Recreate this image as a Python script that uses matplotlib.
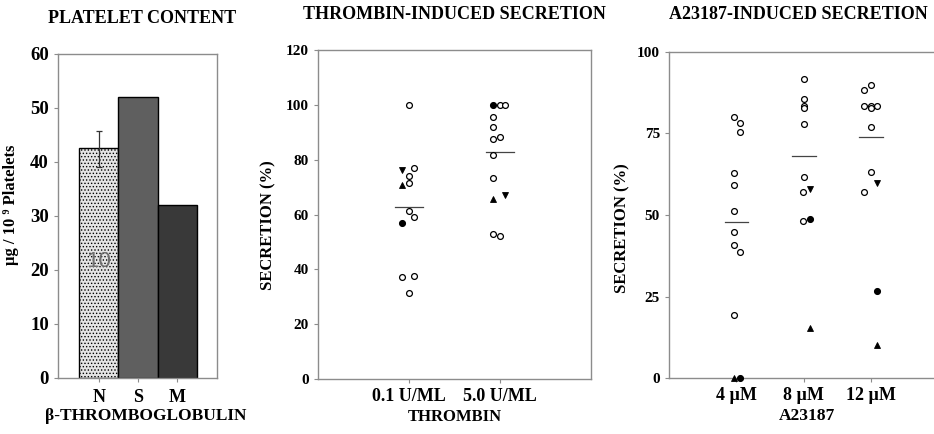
import matplotlib
matplotlib.use("Agg")
import matplotlib.pyplot as plt
from matplotlib.font_manager import FontProperties
import numpy as np

plt.rcParams['font.family'] = ['Liberation Serif', 'DejaVu Serif']
plt.rcParams['font.weight'] = 'bold'
plt.rcParams['axes.titleweight'] = 'bold'
plt.rcParams['axes.labelweight'] = 'bold'
plt.rcParams['hatch.color'] = '#9a9a9a'
plt.rcParams['hatch.linewidth'] = 0.6

# ---------------- Panel 1 data ----------------
bt_categories = ["N", "S", "M"]
bt_values = [42.5, 52.0, 32.0]
bt_err_low = [3.5, 0, 0]
bt_err_high = [3.2, 0, 0]
bt_n_label = "10"

# ---------------- Panel 2 data (thrombin) ----------------
thr_categories = ["0.1 U/ML", "5.0 U/ML"]
thr_open = [[100, 76.9, 74.0, 71.6, 61.2, 59.0, 37.3, 37.5, 31.5],
            [100, 100, 95.4, 92.0, 87.4, 88.1, 81.8, 73.4, 52.9, 52.2]]
thr_open_dx = [[0, 0.055, 0, 0, 0, 0.055, -0.073, 0.055, 0],
               [0, 0.055, -0.073, -0.073, -0.073, 0, -0.073, -0.073, -0.073, 0]]
thr_filled_circle = [[57.0], [100]]
thr_filled_circle_dx = [[-0.073], [-0.073]]
thr_up = [[70.6], [65.8]]
thr_up_dx = [[-0.073], [-0.073]]
thr_down = [[76.2], [67.1]]
thr_down_dx = [[-0.073], [0.055]]
thr_mean = [62.7, 82.8]

# ---------------- Panel 3 data (A23187) ----------------
a23_categories = ["4 \u00b5M", "8 \u00b5M", "12 \u00b5M"]
a23_open = [[80.0, 78.2, 75.4, 63.0, 59.2, 51.1, 44.7, 40.9, 38.8, 19.3],
            [91.7, 85.7, 83.5, 82.8, 77.8, 61.8, 57.0, 48.2],
            [88.4, 90.0, 83.5, 83.5, 82.8, 83.5, 77.0, 63.1, 57.0]]
a23_open_dx = [[-0.03, 0.06, 0.06, -0.03, -0.03, -0.03, -0.03, -0.03, 0.06, -0.03],
               [0, 0, 0, 0, 0, 0, -0.01, -0.01],
               [-0.11, 0, -0.11, 0, 0, 0.085, 0, 0, -0.11]]
a23_filled_circle = [[0.0], [48.8], [26.7]]
a23_filled_circle_dx = [[0.05], [0.09], [0.085]]
a23_up = [[0.0], [15.2], [10.0]]
a23_up_dx = [[-0.03], [0.09], [0.085]]
a23_down = [[], [57.9], [59.7]]
a23_down_dx = [[], [0.09], [0.085]]
a23_mean = [48.0, 68.2, 73.8]

W, H = 934, 434
fig = plt.figure(figsize=(W / 100, H / 100), dpi=100)

SPINE = '#8c8c8c'


def style_axes(ax):
    for s in ax.spines.values():
        s.set_color(SPINE)
        s.set_linewidth(1.0)
    ax.tick_params(axis='both', colors='black', length=3, width=0.8)
    ax.tick_params(axis='both', which='both', color=SPINE)


def fp(l, t, r, b):
    return [l / W, 1 - b / H, (r - l) / W, (b - t) / H]


# ---------------- Panel 1 ----------------
ax1 = fig.add_axes(fp(58, 54, 217, 378))
x1 = np.arange(len(bt_categories))
colors = ['#e4e4e4', '#5f5f5f', '#393939']
hatches = ['.....', None, None]
for xi, v, c, h in zip(x1, bt_values, colors, hatches):
    ax1.bar(xi, v, width=1.0, color=c, edgecolor='black', linewidth=1.0, hatch=h, zorder=2)
ax1.errorbar(x1[0], bt_values[0], yerr=[[bt_err_low[0]], [bt_err_high[0]]],
             fmt='none', ecolor='#333333', elinewidth=0.9, capsize=2.5, capthick=0.9, zorder=3)
ax1.text(x1[0], 21.5, bt_n_label, ha='center', va='center', color='#707070',
         fontproperties=FontProperties(family='Liberation Sans', weight='normal', size=16),
         zorder=4)
ax1.set_xlim(-1.04, 3.01)
ax1.set_ylim(0, 60)
ax1.set_yticks(range(0, 61, 10))
ax1.set_xticks(x1)
ax1.set_xticklabels(bt_categories, fontsize=13)
ax1.tick_params(axis='y', labelsize=13.5)
ax1.tick_params(axis='x', length=0, pad=5)
style_axes(ax1)
ax1.set_ylabel("\u00b5g / 10 \u2079 Platelets", fontsize=12, labelpad=8)
ax1.yaxis.label.set_y(0.534)
ax1.set_xlabel("\u03b2-THROMBOGLOBULIN", fontsize=12.5, labelpad=1)
ax1.xaxis.label.set_x(0.55)
ax1.set_title("PLATELET CONTENT", fontsize=13, pad=22)
ax1.title.set_x(0.53)


def scatter_groups(ax, opens, opens_dx, fc, fc_dx, ups, ups_dx, downs, downs_dx, means, half):
    ms = 4.2
    for i in range(len(opens)):
        xc = i + 1
        ax.plot([xc + d for d in opens_dx[i]], opens[i], 'o', ms=ms, mfc='white',
                mec='black', mew=0.9, ls='none', zorder=3)
        ax.plot([xc + d for d in fc_dx[i]], fc[i], 'o', ms=ms, mfc='black',
                mec='black', mew=0.9, ls='none', zorder=3)
        ax.plot([xc + d for d in ups_dx[i]], ups[i], '^', ms=ms + 0.6, mfc='black',
                mec='black', mew=0.6, ls='none', zorder=3)
        ax.plot([xc + d for d in downs_dx[i]], downs[i], 'v', ms=ms + 0.6, mfc='black',
                mec='black', mew=0.6, ls='none', zorder=3)
        ax.plot([xc - half, xc + half], [means[i], means[i]], color='#444444', lw=0.9, zorder=2)


# ---------------- Panel 2 ----------------
ax2 = fig.add_axes(fp(318, 50, 591, 379))
scatter_groups(ax2, thr_open, thr_open_dx, thr_filled_circle, thr_filled_circle_dx,
               thr_up, thr_up_dx, thr_down, thr_down_dx, thr_mean, 0.15)
ax2.set_xlim(0, 3)
ax2.set_ylim(0, 120)
ax2.set_yticks(range(0, 121, 20))
ax2.set_xticks([1, 2])
ax2.set_xticklabels(thr_categories, fontsize=13)
ax2.tick_params(axis='y', labelsize=11)
style_axes(ax2)
ax2.set_ylabel("SECRETION (%)", fontsize=12, labelpad=7)
ax2.yaxis.label.set_y(0.468)
ax2.set_xlabel("THROMBIN", fontsize=12, labelpad=3)
ax2.set_title("THROMBIN-INDUCED SECRETION", fontsize=13, pad=22)

# ---------------- Panel 3 ----------------
ax3 = fig.add_axes(fp(669, 52, 934, 378))
scatter_groups(ax3, a23_open, a23_open_dx, a23_filled_circle, a23_filled_circle_dx,
               a23_up, a23_up_dx, a23_down, a23_down_dx, a23_mean, 0.175)
ax3.set_xlim(0, 3.93)
ax3.set_ylim(0, 100)
ax3.set_yticks(range(0, 101, 25))
ax3.set_xticks([1, 2, 3])
ax3.set_xticklabels(a23_categories, fontsize=13)
ax3.tick_params(axis='y', labelsize=11)
style_axes(ax3)
ax3.spines['right'].set_visible(False)
for ax in (ax2, ax3):
    for p in ax.lines:
        p.set_clip_on(False)
ax3.set_ylabel("SECRETION (%)", fontsize=12, labelpad=5)
ax3.yaxis.label.set_y(0.46)
ax3.set_xlabel("A23187", fontsize=12.5, labelpad=3)
ax3.xaxis.label.set_x(0.52)
ax3.set_title("A23187-INDUCED SECRETION", fontsize=13, pad=24)
ax3.title.set_x(0.49)

fig.savefig("out.png", dpi=100)
